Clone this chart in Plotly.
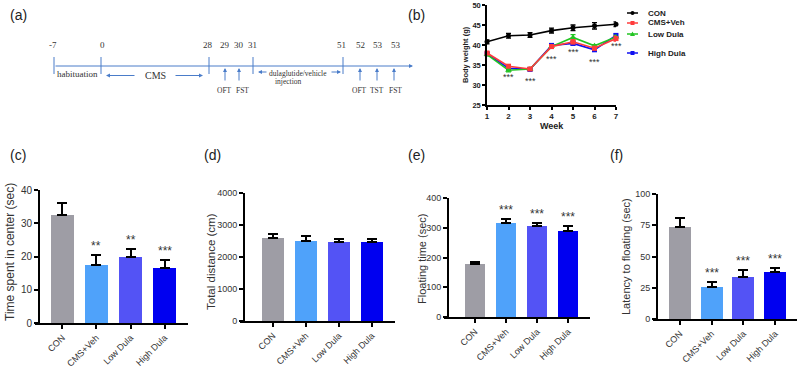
import plotly.graph_objects as go

W, H = 800, 366

# ---------------- data ----------------
groups = ["CON", "CMS+Veh", "Low Dula", "High Dula"]
bar_colors = ["#9E9DA5", "#4FA2FA", "#5353F5", "#0000F0"]

weeks = [1, 2, 3, 4, 5, 6, 7]
bw_con = [40.8, 42.3, 42.5, 43.6, 44.3, 44.8, 45.2]
bw_con_err = [0.5, 0.6, 0.6, 0.6, 0.7, 0.8, 0.6]
bw_cms = [38.0, 34.7, 34.0, 39.6, 40.8, 39.2, 41.6]
bw_cms_err = [0.3, 0.3, 0.3, 0.4, 0.5, 0.4, 0.6]
bw_low = [37.6, 33.7, 34.0, 39.6, 41.9, 39.8, 42.0]
bw_low_err = [0.3, 0.4, 0.3, 0.3, 0.7, 0.3, 0.4]
bw_high = [37.8, 34.2, 33.9, 39.9, 40.4, 38.8, 42.4]
bw_high_err = [0.3, 0.3, 0.3, 0.3, 0.4, 0.4, 0.4]
bw_star_weeks = [2, 3, 4, 5, 6, 7]
bw_star_y = [32.0, 31.0, 36.5, 38.2, 35.7, 39.8]

center_time = [32.5, 17.4, 19.9, 16.6]
center_time_err = [3.5, 3.1, 2.4, 2.4]
center_time_sig = ["", "**", "**", "***"]

distance = [2590, 2490, 2460, 2470]
distance_err = [130, 160, 100, 100]
distance_sig = ["", "", "", ""]

floating = [178, 315, 306, 289]
floating_err = [8, 13, 11, 18]
floating_sig = ["", "***", "***", "***"]

latency = [74, 26, 34, 37.6]
latency_err = [6.7, 3.6, 5.4, 3.4]
latency_sig = ["", "***", "***", "***"]

timeline_days = ["-7", "0", "28", "29", "30", "31", "51", "52", "53", "53"]
timeline_tests = ["OFT", "FST", "OFT", "TST", "FST"]

# ---------------- helpers ----------------
def XP(px):
    return px / W

def YP(py):
    return 1 - py / H

FONT = "Liberation Sans, Arial, sans-serif"
SERIF = "Liberation Serif, Times New Roman, serif"
TXT = "#333333"
BLUE = "#4A7CC9"

fig = go.Figure()
annotations = []
shapes = []

def ptext(px, py, text, size, family=FONT, color=TXT, xanchor="center", angle=0):
    annotations.append(dict(x=XP(px), y=YP(py), xref="paper", yref="paper", text=text,
                            xanchor=xanchor, yanchor="middle", textangle=angle,
                            showarrow=False, font=dict(family=family, size=size, color=color)))

def parrow(hx, hy, tx, ty):
    annotations.append(dict(x=XP(hx), y=YP(hy), xref="paper", yref="paper", text="",
                            ax=tx - hx, ay=ty - hy, axref="pixel", ayref="pixel",
                            showarrow=True, arrowhead=2, arrowsize=0.8, arrowwidth=1,
                            arrowcolor=BLUE, standoff=0, startstandoff=0))

def pline(x0, y0, x1, y1, color="black", width=2):
    shapes.append(dict(type="line", xref="paper", yref="paper", x0=XP(x0), x1=XP(x1),
                       y0=YP(y0), y1=YP(y1), line=dict(color=color, width=width)))

# ---------------- panel (b): body weight ----------------
series = [
    ("CON", bw_con, bw_con_err, "black", "circle", 5),
    ("High Dula", bw_high, bw_high_err, "#1010F0", "square", 5),
    ("Low Dula", bw_low, bw_low_err, "#22C422", "triangle-up", 6),
    ("CMS+Veh", bw_cms, bw_cms_err, "#FF3C3C", "square", 5),
]
for name, vals, errs, col, sym, sz in series:
    fig.add_trace(go.Scatter(
        x=weeks, y=vals, name=name, mode="lines+markers",
        line=dict(color=col, width=1.6),
        marker=dict(color=col, symbol=sym, size=sz),
        error_y=dict(type="data", array=errs, color=col, thickness=1.3, width=2.5),
        xaxis="x", yaxis="y", cliponaxis=False, showlegend=False,
    ))

for wk, yv in zip(bw_star_weeks, bw_star_y):
    annotations.append(dict(x=wk, y=yv, xref="x", yref="y", text="***",
                            showarrow=False, font=dict(family=FONT, size=9, color=TXT)))

ptext(552, 126, "<b>Week</b>", 9, color="#222")
ptext(465, 55, "<b>Body weight (g)</b>", 7.5, color="#222", angle=-90)

# manual legend (line sample + marker + label)
leg_items = [("CON", "black", "circle", 13), ("CMS+Veh", "#FF3C3C", "square", 23),
             ("Low Dula", "#22C422", "triangle-up", 34), ("High Dula", "#1010F0", "square", 53)]
for name, col, sym, yy in leg_items:
    pline(627, yy, 638, yy, color=col, width=1.5)
    if sym == "circle":
        shapes.append(dict(type="circle", xref="paper", yref="paper", x0=XP(630.5), x1=XP(634.5),
                           y0=YP(yy + 2), y1=YP(yy - 2), fillcolor=col, line=dict(width=0)))
    elif sym == "square":
        shapes.append(dict(type="rect", xref="paper", yref="paper", x0=XP(630.5), x1=XP(634.5),
                           y0=YP(yy + 2), y1=YP(yy - 2), fillcolor=col, line=dict(width=0)))
    else:
        shapes.append(dict(type="path", xref="paper", yref="paper",
                           path="M %f,%f L %f,%f L %f,%f Z" % (XP(630), YP(yy + 2), XP(635), YP(yy + 2),
                                                              XP(632.5), YP(yy - 2.5)),
                           fillcolor=col, line=dict(width=0)))
    ptext(646, yy, "<b>%s</b>" % name, 8, color="#222", xanchor="left")

# ---------------- bar panels ----------------
# (x axis, y axis, values, errors, significance, bar width, frame: left, right, top, bottom px)
bar_panels = [
    ("x2", "y2", center_time, center_time_err, center_time_sig, 0.68, (40, 188, 190, 323)),
    ("x3", "y3", distance, distance_err, distance_sig, 0.67, (245, 395, 193, 321)),
    ("x4", "y4", floating, floating_err, floating_sig, 0.65, (449, 590, 198, 317)),
    ("x5", "y5", latency, latency_err, latency_sig, 0.69, (658, 797, 194, 319)),
]
for xa, ya, vals, errs, sig, bw, (fl, fr, ft, fb) in bar_panels:
    fig.add_trace(go.Bar(
        x=groups, y=vals, marker=dict(color=bar_colors, line=dict(width=0)),
        width=bw, xaxis=xa, yaxis=ya, showlegend=False, cliponaxis=False,
        error_y=dict(type="data", array=errs, arrayminus=[0] * len(errs), symmetric=False,
                     color="black", thickness=2, width=5),
    ))
    for g, v, e, s in zip(groups, vals, errs, sig):
        if s:
            annotations.append(dict(x=g, y=v + e, xref=xa, yref=ya, text=s, showarrow=False,
                                    yanchor="bottom", yshift=0,
                                    font=dict(family=FONT, size=12, color=TXT)))
    # spines drawn in paper space so they are never clipped
    pline(fl - 1, ft, fl - 1, fb + 2)
    pline(fl - 5, fb + 1, fr, fb + 1)

for t, xx, yy, fs in [("Time spent in center (sec)", 10, 252, 12),
                      ("Total distance (cm)", 211, 262, 11.5),
                      ("Floating time (sec)", 422, 259, 11),
                      ("Latency to floating (sec)", 626, 257, 11)]:
    ptext(xx, yy, t, fs, angle=-90)

# ---------------- panel labels ----------------
for t, xx, yy in [("(a)", 18, 15), ("(b)", 416, 15), ("(c)", 18, 155),
                  ("(d)", 212, 155), ("(e)", 416, 155), ("(f)", 616, 155)]:
    ptext(xx, yy, t, 14, color="#222")

# ---------------- panel (a): timeline schematic ----------------
tick_px = [54, 101, 209, 253, 343]
label_px = [53, 102, 208, 225, 239, 253, 341, 360, 378, 396]
arrow_px = [225, 239, 360, 377, 394]
test_px = [224, 242, 359, 377, 395]

parrow(413, 66, 54, 66)
for tp in tick_px:
    pline(tp, 57, tp, 74, color=BLUE, width=1)
for d, lp in zip(timeline_days, label_px):
    ptext(lp, 45, d, 9, family=SERIF)
for ap in arrow_px:
    parrow(ap, 68, ap, 82)
for t, tp in zip(timeline_tests, test_px):
    ptext(tp, 90, t, 7.5, family=SERIF)
ptext(77, 74, "habituation", 9, family=SERIF)
ptext(155, 75, "CMS", 10, family=SERIF)
for hx, tx, yy in [(106, 136, 75.5), (203, 174, 75.5), (258, 268, 72), (341, 330, 72)]:
    parrow(hx, yy, tx, yy)
ptext(298, 73, "dulaglutide/vehicle", 7.5, family=SERIF)
ptext(273, 81, "injection", 7.5, family=SERIF, xanchor="left")

# ---------------- layout ----------------
def bar_x(dom_l, dom_r, rng, anchor_y):
    return dict(domain=[XP(dom_l), XP(dom_r)], type="category", range=rng, anchor=anchor_y,
                showline=True, linecolor="black", linewidth=2, ticks="outside", ticklen=4,
                tickwidth=2, tickcolor="black", tickangle=-45, showgrid=False, zeroline=False,
                tickfont=dict(family=FONT, size=9, color=TXT), fixedrange=True)

def bar_y(top, bot, rng, dt, anchor_x, fs=9.5):
    return dict(domain=[YP(bot), YP(top)], range=rng, dtick=dt, anchor=anchor_x,
                showline=True, linecolor="black", linewidth=2, ticks="outside", ticklen=4,
                tickwidth=2, tickcolor="black", showgrid=False, zeroline=False,
                tickfont=dict(family=FONT, size=fs, color=TXT), fixedrange=True)

fig.update_layout(
    template="none",
    width=W, height=H, margin=dict(l=0, r=0, t=0, b=0, autoexpand=False),
    paper_bgcolor="white", plot_bgcolor="rgba(0,0,0,0)",
    showlegend=False, bargap=0,
    xaxis=dict(domain=[XP(487), XP(616)], range=[1, 7], dtick=1, anchor="y",
               showline=True, linecolor="black", linewidth=1.5, ticks="outside", ticklen=3,
               tickwidth=1.5, tickcolor="black", showgrid=False, zeroline=False,
               tickfont=dict(family=FONT, size=8, color="#222", weight="bold"), fixedrange=True),
    yaxis=dict(domain=[YP(105), YP(5)], range=[25, 50], dtick=5, anchor="x",
               showline=True, linecolor="black", linewidth=1.5, ticks="outside", ticklen=3,
               tickwidth=1.5, tickcolor="black", showgrid=False, zeroline=False,
               tickfont=dict(family=FONT, size=7.5, color="#222", weight="bold"), fixedrange=True),
    xaxis2=bar_x(40, 188, [-0.66, 3.69], "y2"),
    yaxis2=bar_y(190, 323, [0, 40], 10, "x2", 10),
    xaxis3=bar_x(245, 395, [-0.85, 3.70], "y3"),
    yaxis3=bar_y(193, 321, [0, 4000], 1000, "x3", 9),
    xaxis4=bar_x(449, 590, [-0.84, 3.71], "y4"),
    yaxis4=bar_y(198, 317, [0, 400], 100, "x4", 9),
    xaxis5=bar_x(658, 797, [-0.69, 3.69], "y5"),
    yaxis5=bar_y(194, 319, [0, 100], 25, "x5", 9),
    annotations=annotations, shapes=shapes,
)
fig.write_html("out.html", config={"displayModeBar": False},
               post_script="document.body.style.margin='0px';")
